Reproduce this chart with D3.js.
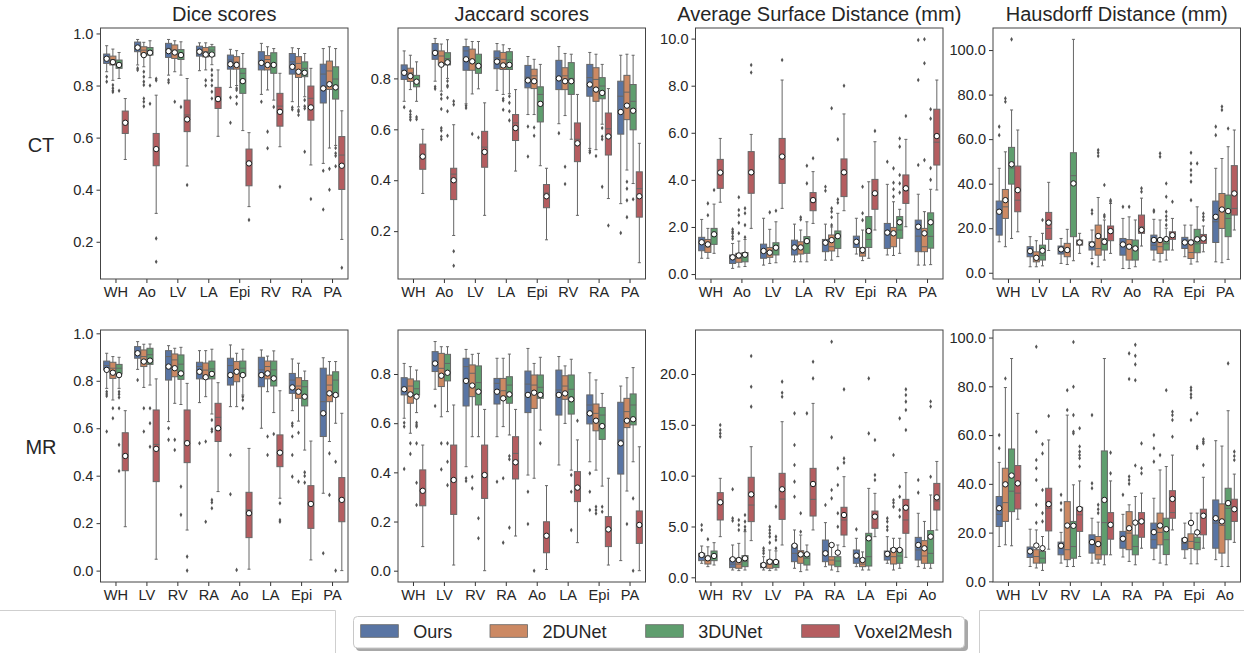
<!DOCTYPE html>
<html>
<head>
<meta charset="utf-8">
<script src="https://cdn.jsdelivr.net/npm/d3@7"></script>
<style>
  body { margin: 0; background: #fff; }
  svg text { font-family: "Liberation Sans", Arial, sans-serif; fill: #262626; }
</style>
</head>
<body>
<svg id="chart" width="1244" height="653"></svg>
<script>
/**
 *  Segmentation metrics, CT and MR, boxplots per structure and method
 */

var methods = ["Ours", "2DUNet", "3DUNet", "Voxel2Mesh"];
var colors  = ["#5975a4", "#cc8963", "#5f9e6e", "#b55d60"];

var catsCT    = ["WH", "Ao", "LV", "LA", "Epi", "RV", "RA", "PA"];
var catsAsdCT = ["WH", "Ao", "LV", "LA", "RV", "Epi", "RA", "PA"];
var catsHdCT  = ["WH", "LV", "LA", "RV", "Ao", "RA", "Epi", "PA"];
var catsMR    = ["WH", "LV", "RV", "RA", "Ao", "LA", "Epi", "PA"];
var catsAsdMR = ["WH", "RV", "LV", "PA", "RA", "LA", "Epi", "Ao"];
var catsHdMR  = ["WH", "LV", "RV", "LA", "RA", "PA", "Epi", "Ao"];

// each box: [low whisker, q1, median, q3, high whisker, mean, outliers]
var diceCT = [
  [[0.853,0.885,0.908,0.921,0.953,0.903,[0.834,0.815]], [0.82,0.879,0.90,0.913,0.94,0.89,[0.802,0.79,0.78,0.775]], [0.827,0.866,0.885,0.898,0.927,0.879,[0.78]], [0.516,0.616,0.657,0.702,0.75,0.657,[]]],
  [[0.879,0.930,0.949,0.967,0.977,0.946,[0.866,0.86]], [0.872,0.917,0.936,0.949,0.966,0.917,[0.853,0.834,0.815,0.802,0.75,0.738,0.72]], [0.83,0.917,0.934,0.946,0.972,0.926,[0.80,0.73]], [0.309,0.492,0.559,0.616,0.763,0.556,[0.826,0.82,0.213,0.123]]],
  [[0.84,0.908,0.943,0.962,0.977,0.932,[0.821,0.812]], [0.853,0.904,0.936,0.956,0.972,0.927,[0.738]], [0.84,0.9,0.923,0.938,0.968,0.917,[0.718]], [0.491,0.623,0.687,0.744,0.827,0.67,[0.418]]],
  [[0.857,0.913,0.934,0.951,0.964,0.93,[]], [0.86,0.91,0.93,0.946,0.964,0.919,[0.82,0.80]], [0.88,0.913,0.936,0.949,0.958,0.919,[0.86,0.84,0.82,0.80,0.776,0.75]], [0.605,0.712,0.757,0.793,0.86,0.748,[]]],
  [[0.793,0.863,0.898,0.917,0.939,0.882,[0.754,0.657]], [0.80,0.863,0.89,0.911,0.934,0.879,[0.79,0.783,0.757,0.73]], [0.627,0.77,0.847,0.866,0.923,0.817,[]], [0.335,0.415,0.504,0.556,0.619,0.501,[0.284]]],
  [[0.766,0.86,0.89,0.93,0.962,0.887,[0.738]], [0.783,0.86,0.90,0.915,0.949,0.879,[0.623,0.559]], [0.744,0.847,0.88,0.926,0.942,0.879,[0.718]], [0.565,0.644,0.721,0.77,0.847,0.699,[0.411]]],
  [[0.738,0.844,0.891,0.923,0.945,0.872,[0.716,0.708]], [0.718,0.831,0.885,0.911,0.942,0.853,[0.706,0.70,0.687]], [0.757,0.834,0.866,0.891,0.923,0.849,[0.744,0.72,0.712,0.546]], [0.495,0.667,0.751,0.798,0.866,0.716,[0.364]]],
  [[0.501,0.733,0.844,0.882,0.942,0.789,[0.473,0.324]], [0.56,0.785,0.856,0.894,0.949,0.805,[0.48,0.40]], [0.57,0.748,0.825,0.872,0.942,0.793,[0.56,0.54,0.53,0.49]], [0.209,0.401,0.533,0.604,0.703,0.492,[0.1]]]
];

var jaccardCT = [
  [[0.71,0.796,0.829,0.853,0.908,0.822,[0.687]], [0.756,0.788,0.822,0.84,0.891,0.809,[0.671,0.658,0.648,0.638]], [0.71,0.767,0.789,0.812,0.865,0.787,[0.648,0.64]], [0.348,0.443,0.49,0.542,0.6,0.493,[]]],
  [[0.789,0.875,0.908,0.937,0.957,0.9,[0.767,0.759]], [0.75,0.853,0.888,0.908,0.935,0.854,[0.737,0.72,0.68,0.605,0.595,0.572,0.561]], [0.80,0.853,0.878,0.901,0.952,0.863,[0.79,0.772,0.767,0.724,0.671,0.575]], [0.183,0.324,0.424,0.447,0.618,0.4,[0.71,0.697,0.121,0.064]]],
  [[0.70,0.832,0.908,0.925,0.954,0.875,[0.693,0.684]], [0.739,0.832,0.87,0.915,0.945,0.867,[0.582]], [0.759,0.82,0.85,0.895,0.945,0.849,[0.568]], [0.262,0.451,0.53,0.592,0.704,0.511,[]]],
  [[0.753,0.838,0.882,0.908,0.937,0.866,[]], [0.737,0.835,0.875,0.902,0.932,0.851,[0.72,0.713,0.677]], [0.74,0.835,0.872,0.905,0.917,0.853,[0.73,0.704,0.671,0.635]], [0.436,0.556,0.625,0.658,0.756,0.605,[]]],
  [[0.658,0.763,0.805,0.851,0.886,0.792,[0.611,0.493]], [0.658,0.76,0.81,0.836,0.875,0.789,[0.607,0.575]], [0.457,0.629,0.737,0.767,0.855,0.7,[]], [0.166,0.292,0.35,0.383,0.447,0.337,[]]],
  [[0.622,0.756,0.807,0.871,0.925,0.8,[0.585]], [0.654,0.756,0.81,0.842,0.898,0.789,[0.453,0.385]], [0.561,0.737,0.80,0.862,0.895,0.789,[]], [0.262,0.473,0.561,0.625,0.737,0.545,[]]],
  [[0.525,0.73,0.803,0.855,0.902,0.776,[0.516,0.509]], [0.52,0.71,0.796,0.842,0.895,0.756,[0.495]], [0.62,0.72,0.77,0.803,0.855,0.743,[0.605,0.572,0.561,0.374]], [0.328,0.499,0.602,0.664,0.76,0.572,[0.222]]],
  [[0.308,0.581,0.73,0.789,0.891,0.668,[0.193]], [0.44,0.638,0.746,0.812,0.895,0.693,[0.394,0.367,0.321,0.255]], [0.387,0.598,0.71,0.776,0.891,0.673,[0.325]], [0.076,0.255,0.367,0.433,0.545,0.337,[]]]
];

var asdCT = [
  [[0.67,0.99,1.33,1.56,2.32,1.35,[]], [0.67,0.92,1.15,1.47,1.94,1.26,[3.0,2.5]], [0.88,1.26,1.73,1.94,2.97,1.69,[3.57]], [3.05,3.64,4.28,4.87,5.76,4.31,[]]],
  [[0.24,0.45,0.67,0.81,1.3,0.71,[1.9,1.8,1.73,1.6,1.5]], [0.3,0.5,0.67,0.88,1.4,0.79,[3.26,2.72,2.5,2.18,1.73]], [0.32,0.52,0.76,0.91,1.47,0.82,[2.79,2.58,2.08,1.56]], [1.94,3.43,4.28,5.2,5.93,4.32,[8.88,8.56]]],
  [[0.38,0.67,1.02,1.27,2.37,0.98,[]], [0.45,0.71,0.88,1.13,1.9,0.91,[2.62]], [0.48,0.81,1.13,1.33,2.22,1.12,[2.69]], [2.79,3.85,4.99,5.76,8.24,4.99,[9.09]]],
  [[0.52,0.81,1.12,1.44,2.12,1.13,[]], [0.52,0.85,1.1,1.37,1.87,1.13,[2.41,2.32]], [0.52,0.88,1.33,1.59,2.22,1.4,[4.6,3.85]], [2.15,2.69,3.17,3.46,4.35,3.14,[4.92]]],
  [[0.59,0.95,1.3,1.47,2.12,1.33,[3.71,3.54]], [0.59,0.98,1.16,1.66,2.0,1.44,[7.04,2.79,2.65,2.41,2.08]], [0.74,1.09,1.59,1.83,2.58,1.61,[5.72,3.17,3.03]], [2.69,3.29,4.28,4.89,6.8,4.32,[8.0]]],
  [[0.85,1.13,1.37,1.61,2.37,1.37,[]], [0.57,0.76,0.88,1.13,1.87,1.02,[3.71,2.58,2.29]], [0.67,1.13,1.47,2.44,3.92,1.83,[]], [1.87,2.75,3.36,4.02,5.62,3.43,[6.08]]],
  [[0.81,1.09,1.76,2.15,3.81,1.76,[4.77]], [0.79,1.16,1.73,1.98,3.07,1.73,[4.49,3.88,3.6,3.29]], [0.88,1.52,1.87,2.44,2.75,2.2,[5.76,5.41,4.21,3.85,3.46]], [2.01,3.0,3.54,4.21,5.72,3.64,[6.71]]],
  [[0.38,0.95,1.61,2.29,3.39,2.01,[9.94,8.24,4.63]], [0.38,0.95,1.16,1.94,2.65,1.73,[9.97,8.95,4.84]], [0.4,1.1,1.6,2.6,3.6,2.2,[7.0,6.6,4.5,4.0]], [3.57,4.63,5.6,7.0,8.24,5.86,[]]]
];

var hdCT = [
  [[13.9,16.9,26.6,32.2,46.9,27.4,[65.6,61.8]], [11.7,24.4,29.6,37.4,54.3,32.6,[78.3,76.8]], [15.4,39.8,47.0,56.3,73.1,48.7,[104.8]], [18.4,27.4,32.6,47.9,64.1,37.1,[]]],
  [[2.7,7.2,9.5,11.7,16.2,9.7,[]], [2.7,4.9,6.4,9.4,14.4,6.7,[]], [3.1,5.7,7.9,12.4,17.7,9.9,[23.7]], [10.0,15.0,19.9,27.1,40.6,22.5,[]]],
  [[4.2,8.4,10.0,12.0,15.4,10.5,[]], [3.7,7.2,9.4,13.2,19.5,10.2,[]], [5.4,16.2,43.6,53.9,104.8,40.1,[]], [8.7,12.4,13.4,14.7,17.7,13.6,[]]],
  [[6.4,10.2,12.4,13.9,19.2,12.7,[28.1,26.6,4.2]], [2.7,7.9,10.9,21.4,33.8,16.5,[55.1,53.9,52.4]], [5.7,10.2,12.7,15.4,23.7,13.9,[39.4,25.9,25.1]], [8.7,14.4,18.0,21.0,31.1,18.7,[32.6,31.9]]],
  [[1.9,7.9,12.4,15.4,24.4,12.7,[29.6]], [1.9,5.7,11.0,14.9,25.1,11.7,[29.6]], [2.7,5.7,10.5,14.7,23.7,10.9,[]], [12.0,17.7,20.7,25.9,33.5,19.2,[37.9,36.4]]],
  [[5.7,10.2,12.4,16.9,24.0,14.7,[28.1,27.4]], [4.9,8.7,11.7,15.4,23.7,14.7,[53.6,52.1]], [5.7,10.2,13.0,15.4,20.0,15.1,[40.1,34.1,27.4,25.4,23.7,21.4]], [10.2,15.0,16.2,18.4,24.4,16.9,[31.9]]],
  [[7.2,10.9,13.0,15.9,21.4,13.6,[]], [3.9,6.4,9.1,14.7,21.4,13.6,[53.9,49.1,46.1,43.9,40.9,32.6]], [4.9,9.0,13.0,19.5,29.6,15.0,[49.1]], [9.4,13.2,15.0,17.2,21.0,15.4,[26.6,25.1,23.7]]],
  [[4.9,13.6,22.9,32.2,46.9,25.1,[65.6,61.8]], [4.5,19.9,28.9,35.6,51.3,28.4,[74.6,73.1]], [6.0,16.2,24.4,34.9,56.6,27.7,[64.8]], [19.2,25.9,28.9,48.1,64.1,35.6,[]]]
];

var diceMR = [
  [[0.768,0.846,0.864,0.883,0.916,0.846,[0.754,0.744,0.736,0.586]], [0.719,0.81,0.853,0.878,0.902,0.834,[0.684,0.642]], [0.768,0.829,0.853,0.869,0.899,0.824,[0.754,0.743,0.73,0.684,0.53,0.42]], [0.185,0.421,0.487,0.581,0.674,0.483,[]]],
  [[0.848,0.895,0.923,0.944,0.965,0.916,[0.803]], [0.772,0.86,0.902,0.93,0.954,0.881,[0.684,0.586]], [0.782,0.869,0.91,0.937,0.955,0.885,[0.684,0.621,0.522]], [0.048,0.375,0.532,0.677,0.808,0.513,[]]],
  [[0.628,0.803,0.902,0.927,0.948,0.86,[0.6,0.551]], [0.705,0.817,0.888,0.913,0.937,0.853,[0.551,0.508]], [0.70,0.806,0.87,0.909,0.941,0.831,[0.354,0.235]], [0.171,0.455,0.545,0.677,0.789,0.537,[0.059,0.0]]],
  [[0.708,0.808,0.86,0.878,0.927,0.838,[0.537]], [0.733,0.808,0.845,0.875,0.927,0.815,[0.544,0.206]], [0.66,0.808,0.85,0.883,0.933,0.829,[0.635,0.596,0.586,0.298,0.287,0.263]], [0.333,0.544,0.646,0.705,0.792,0.6,[]]],
  [[0.691,0.782,0.864,0.895,0.951,0.824,[0.487,0.322]], [0.691,0.796,0.846,0.881,0.916,0.838,[0.003]], [0.74,0.82,0.853,0.883,0.933,0.824,[0.733,0.719,0.684]], [0.006,0.139,0.256,0.33,0.515,0.242,[]]],
  [[0.6,0.775,0.846,0.899,0.93,0.824,[]], [0.754,0.808,0.86,0.883,0.904,0.831,[0.565,0.487]], [0.666,0.778,0.846,0.883,0.926,0.81,[0.576]], [0.305,0.438,0.50,0.572,0.758,0.497,[0.284,0.213,0.206]]],
  [[0.674,0.747,0.803,0.831,0.892,0.772,[0.621,0.61,0.565,0.487,0.396]], [0.63,0.726,0.778,0.813,0.874,0.754,[0.581,0.375]], [0.508,0.694,0.775,0.801,0.841,0.733,[0.414,0.399,0.371]], [0.045,0.178,0.284,0.358,0.546,0.281,[]]],
  [[0.326,0.565,0.712,0.853,0.897,0.663,[0.073]], [0.544,0.712,0.782,0.824,0.881,0.747,[0.494,0.319]], [0.621,0.733,0.803,0.838,0.881,0.74,[0.459,0.0]], [0.0,0.206,0.30,0.392,0.663,0.298,[]]]
];

var jaccardMR = [
  [[0.62,0.715,0.746,0.785,0.843,0.738,[0.602,0.586,0.414]], [0.559,0.681,0.751,0.78,0.83,0.717,[0.518,0.475]], [0.643,0.715,0.74,0.772,0.816,0.708,[0.602,0.593,0.586,0.518,0.358,0.267]], [0.098,0.264,0.33,0.41,0.511,0.325,[]]],
  [[0.738,0.81,0.85,0.891,0.932,0.843,[0.67]], [0.626,0.749,0.823,0.884,0.911,0.793,[0.518,0.412]], [0.647,0.772,0.843,0.88,0.911,0.805,[0.518,0.443,0.348]], [0.023,0.229,0.37,0.511,0.674,0.369,[]]],
  [[0.423,0.67,0.83,0.864,0.9,0.772,[0.376,0.365]], [0.545,0.708,0.803,0.837,0.88,0.753,[0.382,0.335]], [0.545,0.674,0.765,0.833,0.884,0.728,[0.213,0.132]], [0.0,0.294,0.38,0.511,0.656,0.389,[]]],
  [[0.545,0.678,0.762,0.782,0.864,0.728,[0.362]], [0.586,0.697,0.732,0.782,0.864,0.701,[0.376,0.114]], [0.552,0.681,0.755,0.789,0.881,0.717,[0.466,0.453,0.175]], [0.141,0.373,0.477,0.545,0.656,0.441,[]]],
  [[0.389,0.643,0.759,0.812,0.904,0.715,[0.321,0.19]], [0.376,0.66,0.755,0.796,0.843,0.724,[0.0]], [0.572,0.701,0.746,0.796,0.868,0.715,[0.518]], [0.005,0.073,0.14,0.199,0.346,0.142,[]]],
  [[0.43,0.633,0.735,0.816,0.871,0.715,[]], [0.599,0.697,0.751,0.793,0.833,0.721,[]], [0.409,0.637,0.738,0.796,0.86,0.697,[0.389,0.321,0.165]], [0.114,0.281,0.34,0.403,0.532,0.338,[0.61]]],
  [[0.443,0.597,0.674,0.715,0.805,0.64,[0.396,0.321,0.247]], [0.409,0.569,0.64,0.678,0.776,0.61,[0.26,0.247,0.233]], [0.344,0.534,0.633,0.664,0.721,0.588,[0.26,0.24]], [0.023,0.098,0.17,0.22,0.376,0.168,[]]],
  [[0.041,0.393,0.532,0.685,0.751,0.518,[]], [0.324,0.582,0.647,0.701,0.785,0.61,[0.19]], [0.443,0.593,0.674,0.719,0.826,0.616,[0.294,0.0]], [0.0,0.111,0.18,0.243,0.504,0.186,[]]]
];

var asdMR = [
  [[1.38,1.64,2.1,2.36,3.08,2.2,[5.15,4.66]], [1.05,1.31,1.7,2.1,3.0,1.87,[3.74]], [1.21,1.64,2.03,2.59,3.41,2.1,[]], [4.0,5.64,7.28,8.33,9.74,7.38,[14.98,14.5,14.16,13.84]]],
  [[0.72,0.95,1.3,1.87,3.18,1.77,[8.66,5.8,5.57]], [0.66,0.89,1.3,1.87,3.34,1.7,[5.64,5.15,4.66]], [0.72,1.05,1.54,2.13,4.49,1.87,[6.13,5.48,4.98,4.66]], [3.61,5.48,7.11,9.84,12.85,8.16,[21.77,18.75,16.79]]],
  [[0.72,0.95,1.15,1.38,2.03,1.21,[2.85,2.62,2.36]], [0.66,0.89,1.3,1.7,2.69,1.54,[4.98,4.66,4.33,4.0,3.41]], [0.72,0.95,1.25,1.61,2.6,1.51,[6.95,4.0,3.67,2.85]], [3.18,5.7,7.7,10.23,15.31,8.66,[19.25,18.16,17.77]]],
  [[0.89,1.54,2.36,3.18,4.66,3.11,[16.13,13.02,11.05,9.41,7.93]], [0.56,1.38,2.03,2.62,4.16,2.26,[6.3,4.49]], [0.72,1.21,1.87,2.36,3.18,2.26,[16.13]], [4.66,6.03,7.67,10.72,17.11,9.18,[21.21,19.57]]],
  [[1.05,1.54,2.52,3.67,5.38,2.36,[7.11]], [0.72,1.21,1.7,2.03,3.34,3.18,[23.18,13.77,8.59,7.77]], [0.56,1.05,1.6,2.03,3.18,2.43,[10.72,9.08,6.3,4.98]], [3.02,4.16,5.64,6.89,9.9,6.13,[18.49,11.7,11.28]]],
  [[1.05,1.38,2.0,2.69,3.84,2.13,[4.72]], [0.72,1.05,1.3,1.87,2.5,1.7,[]], [0.72,1.11,2.03,4.33,8.75,3.84,[19.57,14.16]], [4.0,4.82,6.03,6.52,8.26,5.97,[13.51,10.07,9.57]]],
  [[1.38,1.7,2.03,2.59,4.0,2.3,[5.8,5.48,4.98,4.66]], [0.72,1.31,2.03,2.85,3.84,2.69,[12.03,7.61,7.34,6.95]], [0.89,1.38,2.1,2.75,3.84,2.69,[15.64,8.92,7.93,6.62,5.97]], [1.97,4.33,5.64,7.67,10.3,6.85,[18.49,17.93,17.28,16.46,14.49]]],
  [[1.05,1.7,2.69,3.93,6.3,3.18,[9.57,8.33]], [0.89,1.38,2.1,3.61,5.5,2.85,[]], [0.89,1.38,2.36,4.6,8.1,4.0,[17.3,16.8,9.9]], [4.65,6.62,7.5,9.24,11.4,7.87,[]]]
];

var hdMR = [
  [[14.3,22.5,27.5,34.8,48.8,30.0,[60.0,54.6]], [15.0,24.6,32.3,46.4,79.5,39.8,[83.2]], [14.6,28.6,37.0,54.3,91.4,43.4,[]], [25.5,29.7,36.2,47.5,68.9,40.2,[]]],
  [[6.1,9.8,12.3,14.1,21.4,12.3,[]], [5.5,7.5,10.2,13.0,21.1,14.7,[96.2,61.4,49.8,46.4,41.6,31.4,24.0]], [4.5,7.5,9.5,12.3,18.4,13.6,[56.3,52.5,37.5,28.0,24.6]], [13.2,20.7,30.0,38.2,58.0,31.7,[67.8]]],
  [[7.5,10.9,13.6,16.1,20.1,14.6,[35.5,32.1,29.3]], [6.1,8.9,13.0,32.7,68.2,22.9,[78.4,70.3]], [6.1,9.5,14.3,24.6,39.6,22.8,[98.2,79.8,68.2,61.4,60.7]], [10.2,20.5,27.3,30.4,41.2,29.7,[62.8,55.3,53.2,51.8,50.5,47.1]]],
  [[7.5,11.6,16.0,19.1,25.9,16.1,[68.2,40.2,38.2]], [7.5,9.1,10.9,18.4,24.3,15.3,[31.4,29.6,28.0]], [6.8,10.9,24.1,53.5,91.4,33.4,[]], [10.9,17.3,24.1,28.2,41.2,23.2,[52.8,44.3]]],
  [[10.0,13.6,17.0,20.5,27.5,17.5,[35.5]], [8.2,13.0,19.8,28.6,31.4,21.8,[93.5,83.0,43.0,41.6,40.0]], [6.8,10.9,14.3,19.0,34.8,24.1,[97.0,92.5,89.0,82.5,47.5]], [13.6,18.1,23.9,28.2,36.2,24.6,[56.6,46.4,44.3]]],
  [[8.9,13.6,17.1,23.9,34.1,20.2,[60.0,54.6,49.1]], [7.5,15.0,20.1,28.0,45.7,22.9,[51.8]], [6.8,11.0,17.1,25.9,47.1,21.4,[78.4]], [21.1,25.9,28.2,37.2,51.8,33.8,[69.6,68.2,66.2,59.3]]],
  [[9.5,13.0,15.5,17.7,23.9,17.0,[]], [7.2,13.5,16.4,19.5,28.0,24.0,[79.5,78.4,76.7,75.4,66.2]], [7.2,13.0,16.0,18.1,28.0,20.1,[68.9,55.3,54.6]], [13.6,19.1,28.0,29.6,42.7,26.9,[58.3,57.3,56.6,47.7]]],
  [[8.9,13.6,23.9,33.4,57.7,25.9,[]], [6.1,11.6,23.0,31.8,55.5,24.6,[]], [6.1,17.1,30.0,38.2,70.0,32.1,[89.4]], [16.0,24.6,30.0,33.7,44.0,29.6,[53.2,51.4,49.8]]]
];

var panels = [
  {title: "Dice scores",                   cats: catsCT,    data: diceCT,    row: 0, col: 0, domain: [0.057, 1.021], ticks: [0.2, 0.4, 0.6, 0.8, 1.0]},
  {title: "Jaccard scores",                cats: catsCT,    data: jaccardCT, row: 0, col: 1, domain: [0.012, 0.998], ticks: [0.2, 0.4, 0.6, 0.8]},
  {title: "Average Surface Distance (mm)", cats: catsAsdCT, data: asdCT,     row: 0, col: 2, domain: [-0.21, 10.45], ticks: [0, 2, 4, 6, 8, 10]},
  {title: "Hausdorff Distance (mm)",       cats: catsHdCT,  data: hdCT,      row: 0, col: 3, domain: [-2.8, 109.9],  ticks: [0, 20, 40, 60, 80, 100]},
  {title: "",                              cats: catsMR,    data: diceMR,    row: 1, col: 0, domain: [-0.048, 1.014], ticks: [0, 0.2, 0.4, 0.6, 0.8, 1.0]},
  {title: "",                              cats: catsMR,    data: jaccardMR, row: 1, col: 1, domain: [-0.046, 0.979], ticks: [0, 0.2, 0.4, 0.6, 0.8]},
  {title: "",                              cats: catsAsdMR, data: asdMR,     row: 1, col: 2, domain: [-0.46, 24.33],  ticks: [0, 5, 10, 15, 20]},
  {title: "",                              cats: catsHdMR,  data: hdMR,      row: 1, col: 3, domain: [-0.25, 103.1],  ticks: [0, 20, 40, 60, 80, 100]}
];

var rowLabels = ["CT", "MR"];

var svg    = d3.select("#chart");
var colX   = [100.5, 398, 695.5, 993];
var panelW = 247.5;
var rowY   = [[28, 279], [330, 582]];
var lineGray = "#666666";

svg.append("rect").attr("width", 1244).attr("height", 653).attr("fill", "#fff");

panels.forEach(function(p) {
    var x0 = colX[p.col], top = rowY[p.row][0], bottom = rowY[p.row][1];
    var x = d3.scaleBand().domain(p.cats).range([x0, x0 + panelW]);
    var y = d3.scaleLinear().domain(p.domain).range([bottom, top]);
    var hue = d3.scaleBand().domain(methods).range([0, x.bandwidth() * 0.8]);
    var g = svg.append("g");

    // axes
    var ya = g.append("g")
        .attr("transform", "translate(" + x0 + ",0)")
        .call(d3.axisLeft(y).tickValues(p.ticks).tickFormat(d3.format(".1f")).tickSize(4).tickPadding(3));
    var xa = g.append("g")
        .attr("transform", "translate(0," + bottom + ")")
        .call(d3.axisBottom(x).tickSize(4).tickPadding(4));
    [ya, xa].forEach(function(a) {
        a.select(".domain").remove();
        a.selectAll("line").attr("stroke", "#333");
        a.selectAll("text").attr("font-size", 14.6).attr("fill", "#262626")
            .style("font-family", "'Liberation Sans', Arial, sans-serif");
    });

    // boxes
    var bw = hue.bandwidth() * 0.98;
    p.cats.forEach(function(cat, i) {
        p.data[i].forEach(function(s, j) {
            var cx = x(cat) + x.bandwidth() * 0.1 + hue(methods[j]) + hue.bandwidth() / 2;
            var b = g.append("g");
            // whiskers + caps
            b.append("line").attr("x1", cx).attr("x2", cx).attr("y1", y(s[3])).attr("y2", y(s[4]))
                .attr("stroke", lineGray).attr("stroke-width", 1);
            b.append("line").attr("x1", cx).attr("x2", cx).attr("y1", y(s[1])).attr("y2", y(s[0]))
                .attr("stroke", lineGray).attr("stroke-width", 1);
            [s[0], s[4]].forEach(function(v) {
                b.append("line").attr("x1", cx - bw / 4).attr("x2", cx + bw / 4).attr("y1", y(v)).attr("y2", y(v))
                    .attr("stroke", lineGray).attr("stroke-width", 1);
            });
            b.append("rect")
                .attr("x", cx - bw / 2).attr("width", bw)
                .attr("y", y(s[3])).attr("height", Math.max(0.5, y(s[1]) - y(s[3])))
                .attr("fill", colors[j]).attr("stroke", lineGray).attr("stroke-width", 1);
            b.append("line").attr("x1", cx - bw / 2).attr("x2", cx + bw / 2).attr("y1", y(s[2])).attr("y2", y(s[2]))
                .attr("stroke", lineGray).attr("stroke-width", 1);
            // outliers (thin diamonds)
            b.selectAll("path.flier").data(s[6]).enter().append("path")
                .attr("class", "flier")
                .attr("d", function(v) {
                    var yy = y(v);
                    return "M" + cx + "," + (yy - 2.3) + "L" + (cx + 1.4) + "," + yy + "L" + cx + "," + (yy + 2.3) + "L" + (cx - 1.4) + "," + yy + "Z";
                })
                .attr("fill", "#555");
        });
    });
    // means on top
    p.cats.forEach(function(cat, i) {
        p.data[i].forEach(function(s, j) {
            var cx = x(cat) + x.bandwidth() * 0.1 + hue(methods[j]) + hue.bandwidth() / 2;
            g.append("circle").attr("cx", cx).attr("cy", y(s[5])).attr("r", 2.7)
                .attr("fill", "#fff").attr("stroke", "#1a1a1a").attr("stroke-width", 1);
        });
    });

    // frame
    g.append("rect").attr("x", x0).attr("y", top).attr("width", panelW).attr("height", bottom - top)
        .attr("fill", "none").attr("stroke", "#444").attr("stroke-width", 1);

    if (p.title) {
        g.append("text").attr("x", x0 + panelW / 2).attr("y", 21)
            .attr("text-anchor", "middle").attr("font-size", 20).text(p.title);
    }
});

// row labels
svg.selectAll("text.rowlab").data(rowLabels).enter().append("text")
    .attr("class", "rowlab")
    .attr("x", 41).attr("y", function(d, i) { return [152, 454][i]; })
    .attr("text-anchor", "middle").attr("font-size", 20)
    .text(function(d) { return d; });

// outer frame fragments around the legend
svg.append("path").attr("d", "M0,610.5H335.5V653").attr("fill", "none").attr("stroke", "#cfcfcf");
svg.append("path").attr("d", "M1244,610.5H979.5V653").attr("fill", "none").attr("stroke", "#cfcfcf");

// legend
var leg = svg.append("g");
leg.append("rect").attr("x", 356).attr("y", 619).attr("width", 612).attr("height", 32).attr("rx", 4)
    .attr("fill", "#a8a8a8");
leg.append("rect").attr("x", 353.5).attr("y", 616.5).attr("width", 611).attr("height", 31.5).attr("rx", 4)
    .attr("fill", "#fff").attr("stroke", "#c8c8c8");
var legX = [360.7, 490, 645.7, 801.7];
methods.forEach(function(m, j) {
    leg.append("rect").attr("x", legX[j]).attr("y", 624.7).attr("width", 37.6).attr("height", 12.6)
        .attr("fill", colors[j]).attr("stroke", lineGray).attr("stroke-width", 0.8);
    leg.append("text").attr("x", legX[j] + 52.6).attr("y", 637.5).attr("font-size", 18).text(m);
});
</script>
</body>
</html>
